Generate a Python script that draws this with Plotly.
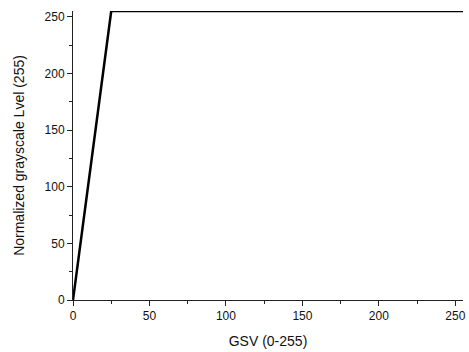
import plotly.graph_objects as go

gsv = [0, 25, 255]
level = [0, 255, 255]
tickvals = [0, 50, 100, 150, 200, 250]

fig = go.Figure()
fig.add_trace(go.Scatter(x=gsv, y=level, mode="lines",
                         line=dict(color="black", width=2.5),
                         cliponaxis=False, showlegend=False))

axis_common = dict(
    showgrid=False, zeroline=False, showline=True, linecolor="#222", linewidth=1,
    ticks="outside", ticklen=5, tickwidth=1, tickcolor="#222",
    tickvals=tickvals, tickfont=dict(family="Liberation Sans, Arial", size=12, color="#111"),
    minor=dict(ticks="outside", ticklen=3, tickwidth=1, tickcolor="#222", dtick=25),
    mirror=False,
)

fig.update_layout(
    width=469, height=352,
    margin=dict(l=73, r=3, t=11, b=52),
    plot_bgcolor="white", paper_bgcolor="white",
    xaxis=dict(range=[0, 255], title=dict(text="GSV (0-255)", standoff=13,
               font=dict(family="Liberation Sans, Arial", size=14, color="#111")), **axis_common),
    yaxis=dict(range=[0, 255], title=dict(text="Normalized grayscale Lvel (255)", standoff=16,
               font=dict(family="Liberation Sans, Arial", size=14, color="#111")), **axis_common),
)

fig.write_html("out.html")
